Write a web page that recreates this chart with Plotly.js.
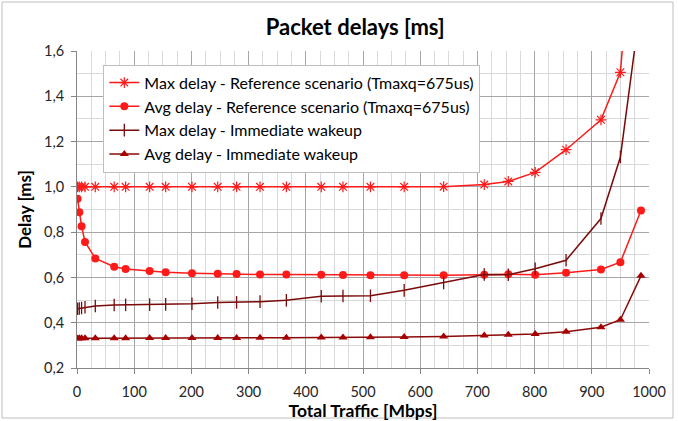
<!DOCTYPE html>
<html>
<head>
<meta charset="utf-8">
<script src="https://cdn.plot.ly/plotly-3.0.1.min.js"></script>
<style>html,body{margin:0;padding:0;background:#fff;}#chart{width:678px;height:421px;}</style>
</head>
<body>
<div id="chart"></div>
<script>
var traffic = [1, 4, 8, 14, 32, 65, 85, 127, 155, 201, 246, 279, 320, 366, 427, 465, 513, 572, 641, 712, 754, 801, 855, 916, 950, 986];
var maxRef = [1.000, 1.000, 1.000, 1.000, 1.000, 1.000, 1.000, 1.000, 1.000, 1.000, 1.000, 1.000, 1.000, 1.000, 1.000, 1.000, 1.000, 1.000, 1.001, 1.010, 1.024, 1.064, 1.164, 1.296, 1.506, 2.6];
var avgRef = [0.947, 0.888, 0.826, 0.757, 0.684, 0.647, 0.637, 0.628, 0.623, 0.619, 0.616, 0.615, 0.613, 0.613, 0.612, 0.611, 0.610, 0.610, 0.610, 0.612, 0.614, 0.612, 0.621, 0.635, 0.667, 0.896];
var maxImm = [0.462, 0.463, 0.465, 0.468, 0.474, 0.478, 0.479, 0.480, 0.481, 0.484, 0.489, 0.490, 0.493, 0.499, 0.517, 0.518, 0.519, 0.543, 0.576, 0.613, 0.612, 0.638, 0.676, 0.860, 1.132, 1.82];
var avgImm = [0.330, 0.331, 0.331, 0.331, 0.331, 0.331, 0.331, 0.332, 0.332, 0.332, 0.333, 0.333, 0.334, 0.334, 0.335, 0.335, 0.336, 0.337, 0.339, 0.343, 0.347, 0.350, 0.360, 0.380, 0.413, 0.607];
var names = ["Max delay - Reference scenario (Tmaxq=675us)", "Avg delay - Reference scenario (Tmaxq=675us)", "Max delay - Immediate wakeup", "Avg delay - Immediate wakeup"];
var chartTitle = "Packet delays [ms]";
var xTitle = "Total Traffic [Mbps]";
var yTitle = "Delay [ms]";

var red = "#FF1A1A";
var dark = "#7A0A0A";
var traces = [
  {x: traffic, y: maxRef, name: names[0], mode: "lines+markers",
   line: {color: red, width: 1.5},
   marker: {symbol: "asterisk-open", size: 9, color: red, line: {color: red, width: 1.2}}},
  {x: traffic, y: avgRef, name: names[1], mode: "lines+markers",
   line: {color: red, width: 1.5},
   marker: {symbol: "circle", size: 8, color: red}},
  {x: traffic, y: maxImm, name: names[2], mode: "lines+markers",
   line: {color: dark, width: 1.5},
   marker: {symbol: "line-ns-open", size: 9, color: dark, line: {color: dark, width: 1.3}}},
  {x: traffic, y: avgImm, name: names[3], mode: "lines+markers",
   line: {color: "#8B0A0A", width: 1.5},
   marker: {symbol: "triangle-up", size: 8, color: "#A80000"}}
];
traces.forEach(function(t){ t.cliponaxis = true; });

var fontFam = "Lato, 'Open Sans', sans-serif";
var layout = {
  width: 678, height: 421,
  margin: {l: 77, r: 29, t: 51, b: 53},
  paper_bgcolor: "#fff", plot_bgcolor: "#fff",
  separators: ", ",
  font: {family: fontFam, size: 14, color: "#262626"},
  title: {text: chartTitle, font: {family: fontFam, size: 22, color: "#000", weight: "bold"},
          x: 0.524, xref: "container", xanchor: "center", y: 0.935, yref: "container", yanchor: "middle"},
  xaxis: {range: [0, 1000], dtick: 100, tick0: 0, showgrid: true, gridcolor: "#A6A6A6", gridwidth: 1,
          showline: true, linecolor: "#868686", linewidth: 1, ticks: "outside", ticklen: 5, tickcolor: "#868686",
          zeroline: false, tickfont: {size: 14.5, color: "#262626"}, ticklabelstandoff: 6,
          minor: {dtick: 25, showgrid: true, gridcolor: "#D9D9D9", gridwidth: 1},
          title: {text: xTitle, font: {family: fontFam, size: 17.5, color: "#000", weight: "bold"}, standoff: 4}},
  yaxis: {range: [0.2, 1.6], dtick: 0.2, tick0: 0.2, tickformat: ".1f", showgrid: true, gridcolor: "#A6A6A6", gridwidth: 1,
          showline: true, linecolor: "#868686", linewidth: 1, ticks: "outside", ticklen: 5, tickcolor: "#868686",
          zeroline: false, tickfont: {size: 14.5, color: "#262626"}, ticklabelstandoff: 4,
          minor: {dtick: 0.1, showgrid: true, gridcolor: "#D9D9D9", gridwidth: 1},
          title: {text: yTitle, font: {family: fontFam, size: 17, color: "#000", weight: "bold"}, standoff: 8}},
  showlegend: true,
  legend: {x: 0.046, y: 0.957, xanchor: "left", yanchor: "top", bgcolor: "#fff", bordercolor: "#BFBFBF", borderwidth: 1,
           font: {family: fontFam, size: 16, color: "#000"}, itemwidth: 30, tracegroupgap: 0},
  shapes: [{type: "rect", xref: "paper", yref: "paper",
            x0: (2 - 77) / 572, x1: (673 - 77) / 572, y0: -(418 - 368) / 317, y1: 1 + (51 - 2) / 317,
            line: {color: "#BFBFBF", width: 1}, fillcolor: "rgba(0,0,0,0)", layer: "below"}]
};
Plotly.newPlot("chart", traces, layout, {staticPlot: true});
</script>
</body>
</html>
